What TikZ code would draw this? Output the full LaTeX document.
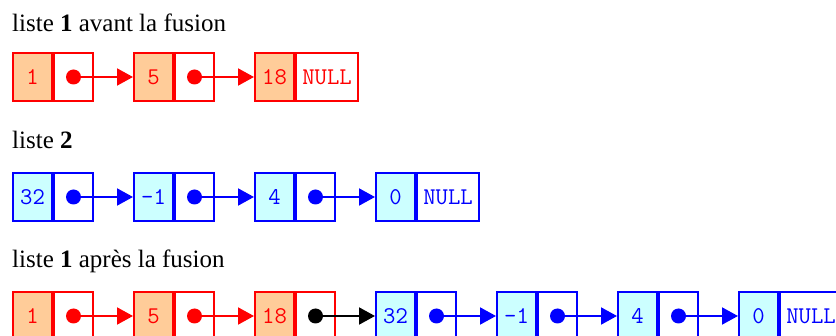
\documentclass[tikz,border=0pt]{standalone}
\usepackage{fontspec}
\setmainfont{Liberation Serif}
\usetikzlibrary{arrows.meta}
\definecolor{peach}{RGB}{255,204,153}
\definecolor{paleblue}{RGB}{204,255,255}
\tikzset{
  cell/.style={draw, line width=2pt, minimum height=48pt, minimum width=39pt,
    inner sep=0pt, anchor=north west, font=\fontsize{24}{24}\ttfamily},
  redval/.style={cell, draw=red, fill=peach, text=red},
  redptr/.style={cell, draw=red, fill=white},
  redend/.style={cell, draw=red, fill=white, text=red, minimum width=62pt},
  blueval/.style={cell, draw=blue, fill=paleblue, text=blue},
  blueptr/.style={cell, draw=blue, fill=white},
  blueend/.style={cell, draw=blue, fill=white, text=blue, minimum width=62pt},
  link/.style={line width=2pt, -{Triangle[length=16pt,width=17pt]}},
  title/.style={anchor=base west, inner sep=0pt, font=\fontsize{25}{30}\selectfont}
}
\begin{document}
\begin{tikzpicture}[x=1pt, y=-1pt]
  \useasboundingbox (0,0) rectangle (836,336);
  % Titles
  \node[title] (t1) at (12,32) {liste \textbf{1} avant la fusion};
  \node[title] (t2) at (12,149) {liste \textbf{2}};
  \node[title] (t3) at (12,268) {liste \textbf{1} apr\`es la fusion};
  % Liste 1 (before)
  \foreach \v [count=\i] in {1,5} {
    \node[redval] (a\i) at ({12+121*(\i-1)},52) {\v};
    \node[redptr] (ap\i) at (a\i.north east) {};
  }
  \node[redval] (a3) at (254,52) {18};
  \node[redend] (ap3) at (a3.north east) {NULL};
  % Liste 2
  \foreach \v [count=\i] in {32,-1,4} {
    \node[blueval] (b\i) at ({12+121*(\i-1)},172) {\v};
    \node[blueptr] (bp\i) at (b\i.north east) {};
  }
  \node[blueval] (b4) at (375,172) {0};
  \node[blueend] (bp4) at (b4.north east) {NULL};
  % Liste 1 (after)
  \foreach \v [count=\i] in {1,5,18} {
    \node[redval] (c\i) at ({12+121*(\i-1)},291) {\v};
    \node[redptr] (cp\i) at (c\i.north east) {};
  }
  \foreach \v [count=\i from 4] in {32,-1,4} {
    \node[blueval] (c\i) at ({12+121*(\i-1)},291) {\v};
    \node[blueptr] (cp\i) at (c\i.north east) {};
  }
  \node[blueval] (c7) at (738,291) {0};
  \node[blueend] (cp7) at (c7.north east) {NULL};
  % Links
  \foreach \s/\t in {ap1/a2, ap2/a3, cp1/c2, cp2/c3} {
    \fill[red] (\s.center) circle (7.5pt);
    \draw[link, red] (\s.center) -- (\t.west);
  }
  \foreach \s/\t in {bp1/b2, bp2/b3, bp3/b4, cp4/c5, cp5/c6, cp6/c7} {
    \fill[blue] (\s.center) circle (7.5pt);
    \draw[link, blue] (\s.center) -- (\t.west);
  }
  \fill[black] (cp3.center) circle (7.5pt);
  \draw[link, black] (cp3.center) -- (c4.west);
\end{tikzpicture}
\end{document}
